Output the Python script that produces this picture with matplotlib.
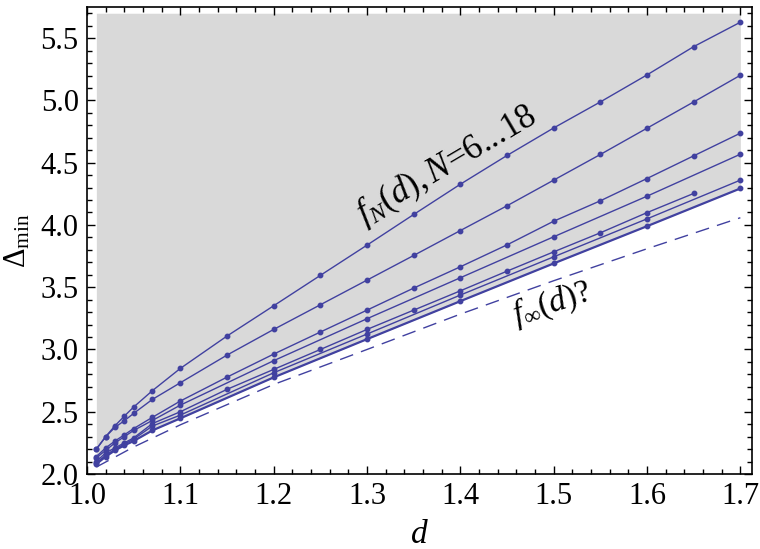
#!/usr/bin/env python3

import matplotlib
matplotlib.use("Agg")
import matplotlib.pyplot as plt
from matplotlib.ticker import MultipleLocator

plt.rcParams.update({
    "font.family": "Liberation Serif",
    "mathtext.fontset": "custom",
    "mathtext.rm": "Liberation Serif",
    "mathtext.it": "Liberation Serif:italic",
    "mathtext.bf": "Liberation Serif:bold",
})

# d values where the bounds were computed
d_start = [1.01, 1.02, 1.03, 1.04, 1.05, 1.07, 1.10]
d_fine = [1.15, 1.20, 1.25, 1.30, 1.35, 1.40, 1.45, 1.50, 1.55, 1.60, 1.65, 1.70]
d_coarse = [1.20, 1.30, 1.40, 1.50, 1.60, 1.70]

# f_N(d), top curve first
f_1 = [2.20, 2.30, 2.388, 2.465, 2.538, 2.669, 2.848,
       3.108, 3.351, 3.595, 3.838, 4.084, 4.327, 4.558, 4.779, 4.988, 5.205, 5.432, 5.628]
f_2 = [2.20, 2.30, 2.375, 2.428, 2.487, 2.599, 2.733,
       2.955, 3.161, 3.359, 3.557, 3.755, 3.955, 4.154, 4.360, 4.566, 4.777, 4.988, 5.202]
f_3 = [2.14, 2.21, 2.265, 2.315, 2.365, 2.455, 2.586,
       2.778, 2.963, 3.140, 3.316, 3.493, 3.664, 3.840, 4.030, 4.194, 4.373, 4.555, 4.737]
f_4 = [2.13, 2.19, 2.25, 2.30, 2.35, 2.43, 2.553,
       2.910, 3.247, 3.576, 3.905, 4.231, 4.568]
f_5 = [2.10, 2.17, 2.21, 2.25, 2.29, 2.405, 2.50,
       2.680, 2.840, 3.000, 3.161, 3.316, 3.471, 3.629, 3.784, 3.937, 4.099, 4.253]
f_6 = [2.09, 2.15, 2.20, 2.24, 2.28, 2.385, 2.473,
       2.813, 3.124, 3.437, 3.744, 4.049, 4.360]
f_7 = [2.08, 2.14, 2.19, 2.23, 2.265, 2.35, 2.447,
       2.776, 3.083, 3.388, 3.691, 3.990, 4.293]

curves = [
    (d_start + d_fine, f_1),
    (d_start + d_fine, f_2),
    (d_start + d_fine, f_3),
    (d_start + d_coarse, f_4),
    (d_start + d_fine[:-1], f_5),
    (d_start + d_coarse, f_6),
    (d_start + d_coarse, f_7),
]

# conjectured limit f_inf(d), dashed
d_inf = [1.01, 1.05, 1.10, 1.20, 1.30, 1.40, 1.50, 1.60, 1.70]
f_inf = [2.056, 2.217, 2.395, 2.719, 3.000, 3.284, 3.552, 3.809, 4.058]

blue = "#4141a0"

fig = plt.figure(figsize=(7.6, 5.49), dpi=100)
ax = fig.add_axes([0.1145, 0.1366, 0.875, 0.8506])

# excluded region above the lowest bound
ax.fill_between(curves[-1][0], curves[-1][1], 5.70, color="#d9d9d9", lw=0, zorder=0)

for i, (d, f) in enumerate(curves):
    lw = 1.6 if i == len(curves) - 1 else 1.0
    ax.plot(d, f, "-o", color=blue, lw=lw, ms=3.2, zorder=3)

ax.plot(d_inf, f_inf, "--", color=blue, lw=1.0, dashes=(10, 6), zorder=2)

ax.text(1.385, 4.48, r"$f_N(d), N$=6...18", fontsize=25, rotation=30.5,
        ha="center", va="center")
ax.text(1.498, 3.37, r"$f_\infty(d)$?", fontsize=24, rotation=18,
        ha="center", va="center")

ax.set_xlim(1.0, 1.7125)
ax.set_ylim(2.0, 5.75)
ax.xaxis.set_major_locator(MultipleLocator(0.1))
ax.xaxis.set_minor_locator(MultipleLocator(0.02))
ax.yaxis.set_major_locator(MultipleLocator(0.5))
ax.yaxis.set_minor_locator(MultipleLocator(0.1))
ax.xaxis.set_major_formatter(plt.FuncFormatter(lambda v, p: "%.1f" % v))
ax.yaxis.set_major_formatter(plt.FuncFormatter(lambda v, p: "%.1f" % v))
ax.tick_params(which="both", direction="in", top=True, right=True,
               labelsize=22, width=1.0, pad=6)
ax.tick_params(which="major", length=6)
ax.tick_params(which="minor", length=3.5)
for s in ax.spines.values():
    s.set_linewidth(1.2)

ax.set_xlabel(r"$d$", fontsize=24, labelpad=6)
ax.set_ylabel(r"$\Delta_{\rm min}$", fontsize=22, labelpad=6)

fig.savefig("out.png", dpi=100)
